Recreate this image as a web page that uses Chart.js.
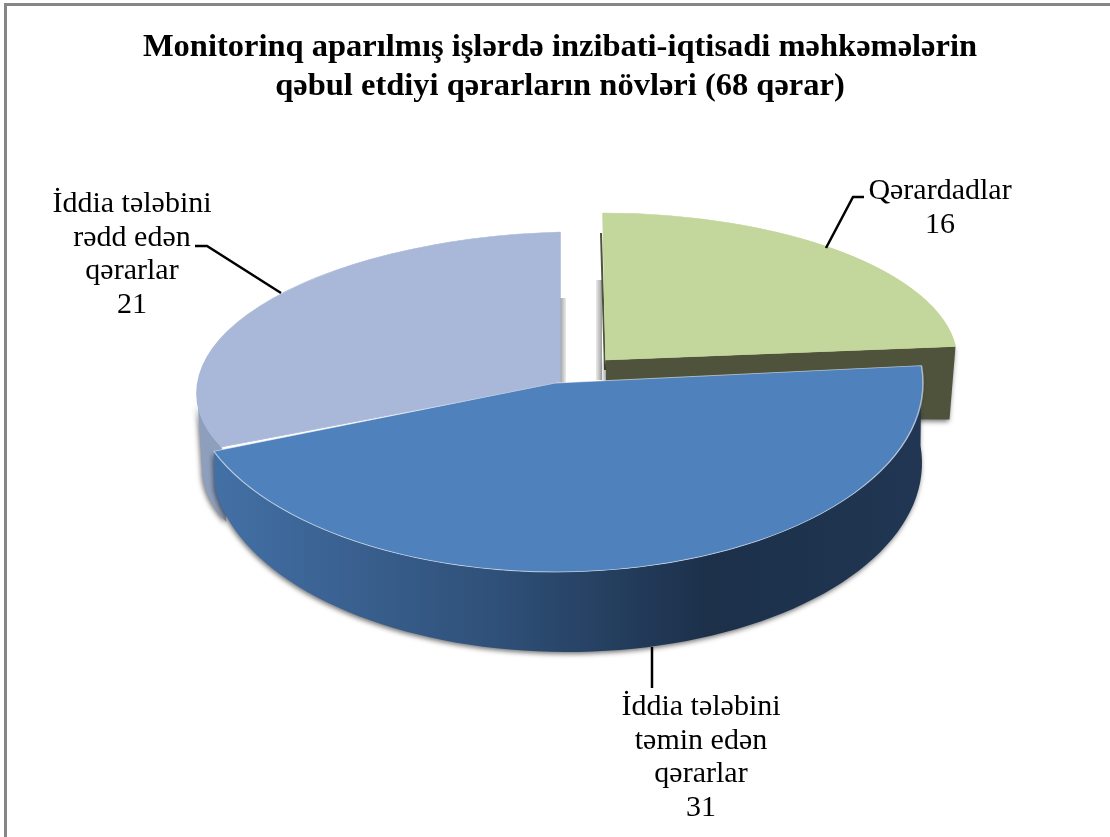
<!DOCTYPE html>
<html>
<head>
<meta charset="utf-8">
<title>Qərarların növləri</title>
<script src="https://cdn.jsdelivr.net/npm/chart.js@4"></script>
<style>
    html, body { margin: 0; background: #fff; }
    #marco { position: relative; width: 1110px; height: 837px; overflow: hidden; }
    #marco::before { content: ''; position: absolute; left: 4px; top: 3px; width: 1120px; bottom: -10px; border: 3px solid #868686; }
    canvas { position: absolute; left: 0; top: 0; filter: blur(0.4px); }
</style>
</head>
<body>
<div id="marco"><canvas id="grafico" width="1110" height="837"></canvas></div>
<script>
// Datos del gráfico
const titulo = ['Monitorinq aparılmış işlərdə inzibati-iqtisadi məhkəmələrin', 'qəbul etdiyi qərarların növləri (68 qərar)'];
const categorias = ['Qərardadlar', 'İddia tələbini\ntəmin edən\nqərarlar', 'İddia tələbini\nrədd edən\nqərarlar'];
const valores = [16, 31, 21];
const colores = ['#C3D69B', '#4F81BD', '#A9B8D8'];
const bordes = ['#C3D69B', 'rgba(255,255,255,0.55)', '#A9B8D8'];

// Proyección de cada porción sobre la elipse (cx, cy, rx, ry, sesgo) y su pared lateral
const vistas = [
    { cx: 606, cy: 360, rx: 351, ry: 147, sesgo: 0, sesgoX: 3 },
    { cx: 556, cy: 383, rx: 367, ry: 189, sesgo: 0, sesgoX: 0, fondo: { cx: 567, cy: 463, rx: 355, ry: 189, sesgo: 0 } },
    { cx: 560, cy: 383, rx: 363, ry: 151, sesgo: -10, sesgoX: 0, fondo: { cx: 560, cy: 458, rx: 358, ry: 151, sesgo: -10 } }
];
const ordenDibujo = [2, 0, 1];

// Etiquetas y líneas guía
const etiquetas = [
    { x: 940, y: 199, guia: [[826, 248], [853, 197], [864, 197]] },
    { x: 701, y: 715, guia: [[652, 647], [652, 688]] },
    { x: 132, y: 212, guia: [[195, 246], [207, 246], [281, 293]] }
];

function puntoElipse(v, a) {
    return [v.cx + v.rx * Math.cos(a), v.cy + v.ry * Math.sin(a) + v.sesgo * Math.cos(a)];
}

// Pared entre dos arcos: arriba de a0 a a1 y de vuelta por el fondo hasta b1
function trazarPared(ctx, arriba, abajo, a0, a1, b1) {
    const pasos = 80;
    ctx.beginPath();
    for (let i = 0; i <= pasos; i++) {
        const p = puntoElipse(arriba, a0 + (a1 - a0) * i / pasos);
        i === 0 ? ctx.moveTo(p[0], p[1]) : ctx.lineTo(p[0], p[1]);
    }
    for (let i = pasos; i >= 0; i--) {
        const p = puntoElipse(abajo, a0 + (b1 - a0) * i / pasos);
        ctx.lineTo(p[0], p[1]);
    }
    ctx.closePath();
}

function dibujarPared(ctx, i, el) {
    const v = vistas[i];
    ctx.save();
    ctx.shadowColor = 'rgba(0,0,0,0.55)';
    ctx.shadowBlur = 5;
    ctx.shadowOffsetX = -1;
    ctx.shadowOffsetY = 2;
    if (i === 0) {
        // Cara de corte de la porción separada
        const p = puntoElipse(v, el.endAngle);
        ctx.fillStyle = '#50533C';
        ctx.beginPath();
        ctx.moveTo(v.cx, v.cy);
        ctx.lineTo(p[0], p[1]);
        ctx.lineTo(p[0] - 6, p[1] + 73);
        ctx.lineTo(v.cx, v.cy + 58);
        ctx.closePath();
        ctx.fill();
    } else if (i === 1) {
        const g = ctx.createLinearGradient(213, 0, 922, 0);
        g.addColorStop(0, '#4370A6');
        g.addColorStop(0.4, '#2F5078');
        g.addColorStop(0.7, '#1C304A');
        g.addColorStop(1, '#203652');
        ctx.fillStyle = g;
        trazarPared(ctx, v, v.fondo, el.startAngle, el.endAngle, el.endAngle + 0.24);
        ctx.fill();
    } else {
        ctx.fillStyle = '#8E9FBD';
        trazarPared(ctx, v, v.fondo, el.startAngle, Math.PI, Math.PI);
        ctx.fill();
    }
    ctx.restore();
}

function dibujarSombraCorte(ctx, i) {
    const v = vistas[i];
    if (i === 1) return;
    // Sombra fina junto al borde vertical de la porción
    const x = i === 0 ? v.cx - 10 : v.cx;
    const alto = i === 0 ? 100 : 85;
    const g = ctx.createLinearGradient(x, 0, x + 6, 0);
    g.addColorStop(i === 0 ? 0 : 1, 'rgba(150,150,150,0.2)');
    g.addColorStop(i === 0 ? 1 : 0, 'rgba(130,130,130,0.8)');
    ctx.fillStyle = g;
    ctx.fillRect(x, v.cy - alto + (i === 0 ? 20 : 0), 6, alto);
    if (i === 0) {
        ctx.strokeStyle = '#50533C';
        ctx.lineWidth = 2;
        ctx.beginPath();
        ctx.moveTo(v.cx - 5, v.cy - 127);
        ctx.lineTo(v.cx - 1, v.cy + 10);
        ctx.stroke();
    }
}

const pastelProyectado = {
    id: 'pastelProyectado',
    beforeDatasetDraw(chart, args) {
        const ctx = chart.ctx;
        const arcos = args.meta.data;
        ordenDibujo.forEach(i => {
            const el = arcos[i];
            const v = vistas[i];
            const R = el.outerRadius;
            dibujarSombraCorte(ctx, i);
            dibujarPared(ctx, i, el);
            ctx.save();
            ctx.translate(v.cx, v.cy);
            ctx.transform(v.rx / R, v.sesgo / R, v.sesgoX / R, v.ry / R, 0, 0);
            ctx.translate(-el.x, -el.y);
            el.draw(ctx, chart.chartArea);
            ctx.restore();
        });
        return false;
    },
    afterDraw(chart) {
        const ctx = chart.ctx;
        ctx.save();
        ctx.fillStyle = '#000';
        ctx.strokeStyle = '#000';
        ctx.lineWidth = 2.5;
        ctx.font = '30px "Liberation Serif"';
        ctx.textAlign = 'center';
        etiquetas.forEach((et, i) => {
            ctx.beginPath();
            et.guia.forEach((p, k) => k === 0 ? ctx.moveTo(p[0], p[1]) : ctx.lineTo(p[0], p[1]));
            ctx.stroke();
            categorias[i].split('\n').concat(String(valores[i])).forEach((linea, k) => {
                ctx.fillText(linea, et.x, et.y + k * 33.5);
            });
        });
        ctx.restore();
    }
};

const ctx = document.getElementById('grafico').getContext('2d');
new Chart(ctx, {
    type: 'pie',
    data: {
        labels: categorias,
        datasets: [{
            data: valores,
            backgroundColor: colores,
            borderColor: bordes,
            borderWidth: 1.5
        }]
    },
    options: {
        responsive: false,
        animation: false,
        layout: { padding: { left: 10 } },
        plugins: {
            legend: { display: false },
            tooltip: { enabled: false },
            title: {
                display: true,
                text: titulo,
                color: '#000',
                font: { family: '"Liberation Serif"', size: 32.5, weight: 'bold', lineHeight: 1.2 },
                padding: { top: 28, bottom: 10 }
            }
        }
    },
    plugins: [pastelProyectado]
});
</script>
</body>
</html>
